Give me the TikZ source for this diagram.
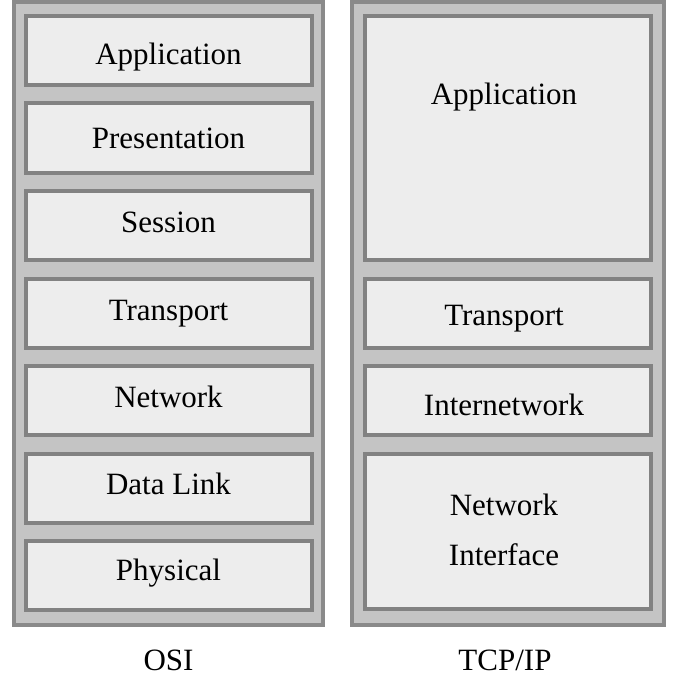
\documentclass[tikz,border=0pt]{standalone}
\usepackage{fontspec}
\setmainfont{Liberation Serif}
\definecolor{stackfill}{RGB}{196,196,196}
\definecolor{stackline}{RGB}{138,138,138}
\definecolor{layerfill}{RGB}{237,237,237}
\definecolor{layerline}{RGB}{130,130,130}
\tikzset{
  stack/.style={draw=stackline, fill=stackfill, line width=4pt, inner sep=0pt},
  layer/.style={draw=layerline, fill=layerfill, line width=4pt, inner sep=0pt,
    minimum width=286pt, minimum height=69pt, text height=21pt, text depth=7pt,
    font=\fontsize{31}{50}\selectfont},
  tag/.style={font=\fontsize{31}{50}\selectfont, inner sep=0pt, align=center,
    text height=21pt, text depth=7pt, xshift=-4pt},
  caption/.style={font=\fontsize{31}{37}\selectfont}
}
\begin{document}
\begin{tikzpicture}[x=1pt,y=-1pt]
      \useasboundingbox (0,0) rectangle (676,682);
      % the two columns
      \draw[stack] (14,2) rectangle (323,625);
      \draw[stack] (352,2) rectangle (664,625);
      % OSI layers
      \node[layer, text height=36pt] (app) at (168.5,50.5) {Application};
      \node[layer, text height=27pt] (pres) at (168.5,138) {Presentation};
      \node[layer] (sess) at (168.5,225.5) {Session};
      \node[layer] (trans) at (168.5,313) {Transport};
      \node[layer] (net) at (168.5,400.5) {Network};
      \node[layer, text height=19pt] (link) at (168.5,488) {Data Link};
      \node[layer, text height=16pt] (phys) at (168.5,575.5) {Physical};
      % TCP/IP layers
      \node[layer, minimum height=244pt,
        label={[tag, anchor=center, yshift=-84pt]north:Application}] (tapp) at (508,138) {};
      \node[layer, label={[tag, yshift=-5pt]center:Transport}] (ttrans) at (508,313) {};
      \node[layer, label={[tag, yshift=-7.5pt]center:Internetwork}] (tinet) at (508,400.5) {};
      \node[layer, minimum height=155pt,
        label={[tag, text height=, text depth=, yshift=2pt]center:Network\\Interface}]
        (tnif) at (508,531.5) {};
      % captions
      \node[caption] (osi) at (168.5,660) {OSI};
      \node[caption] (tcpip) at (505,660) {TCP/IP};
    \end{tikzpicture}
\end{document}
